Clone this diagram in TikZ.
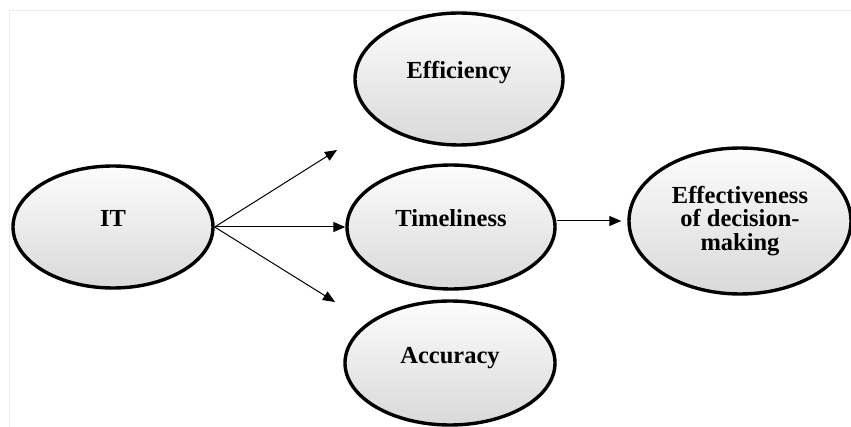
\documentclass[tikz,border=0pt]{standalone}
\usepackage{fontspec}
\setmainfont{Liberation Serif}
\usetikzlibrary{shapes.geometric,arrows.meta}
\tikzset{
  bubble/.style={ellipse, draw=black, line width=3.4pt, inner sep=0pt,
    top color=gray!2, bottom color=gray!30, align=center,
    font=\fontsize{24.5}{23.5}\selectfont\bfseries},
  oneline/.style={bubble, text height=16.5pt, text depth=16.5pt},
  link/.style={line width=1pt, -{Triangle[length=12pt,width=10pt]}},
  frame/.style={draw=black!7, line width=0.8pt}
}
\begin{document}
\begin{tikzpicture}[x=1pt,y=-1pt]
\useasboundingbox (0,0) rectangle (851,427);
\draw[frame] (9,427) -- (9,10) -- (851,10);
\node[oneline, minimum width=200pt, minimum height=122pt] (it) at (113,227) {IT};
\node[oneline, minimum width=208pt, minimum height=132pt] (eff) at (459,79) {Efficiency};
\node[oneline, minimum width=208pt, minimum height=124pt] (tim) at (451,227) {Timeliness};
\node[oneline, minimum width=210pt, minimum height=124pt] (acc) at (450,363) {Accuracy};
\node[bubble, minimum width=222pt, minimum height=146pt] (dec) at (740,221) {Effectiveness\\of decision-\\making};
\coordinate (up) at (337,150);
\coordinate (down) at (335,302);
\draw[link] (it.east) -- (up);
\draw[link] (it.east) -- (tim.west);
\draw[link] (it.east) -- (down);
\draw[link] (tim.east |- dec.west) -- ([xshift=-6pt]dec.west);
\end{tikzpicture}
\end{document}
